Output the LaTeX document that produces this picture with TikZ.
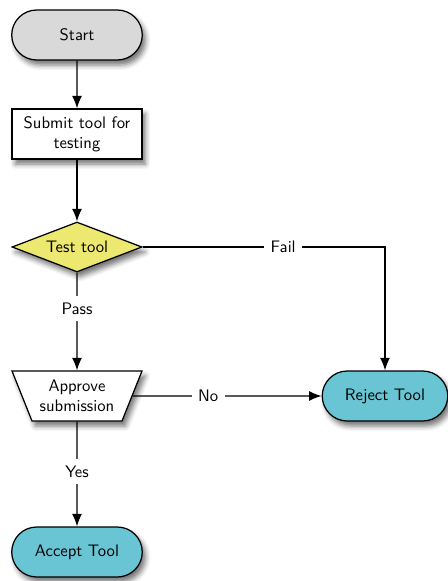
\documentclass[tikz,border=0pt]{standalone}
\usetikzlibrary{shapes.geometric,shapes.misc,shadows.blur,arrows.meta}
\definecolor{startgray}{RGB}{217,217,217}
\definecolor{testyellow}{RGB}{237,232,112}
\definecolor{endteal}{RGB}{105,196,211}
\tikzset{
  boxshadow/.style={blur shadow={shadow xshift=2pt, shadow yshift=-3pt, shadow blur radius=3pt, shadow opacity=55}},
  terminal/.style={rounded rectangle, draw, minimum width=85pt, minimum height=30pt, boxshadow},
  process/.style={rectangle, draw, fill=white, minimum width=78pt, minimum height=30pt, align=center, boxshadow},
  decision/.style={diamond, draw, fill=testyellow, aspect=2.6, inner sep=1pt, minimum width=78pt, minimum height=30pt, boxshadow},
  approval/.style={trapezium, draw, fill=white, trapezium left angle=65, trapezium right angle=65, shape border rotate=180, trapezium stretches body, minimum width=78pt, minimum height=30pt, align=center, boxshadow},
  edgelabel/.style={fill=white, inner sep=4pt}
}
\begin{document}
\begin{tikzpicture}[x=0.6pt, y=-0.6pt, >={Latex[length=7.5pt,width=6pt]}, line width=0.75pt, font=\sffamily]
    \useasboundingbox (0,0) rectangle (447,581);

    \node [terminal, fill=startgray] (start) at (77,35) {Start};
    \node [process] (submit) at (77,134) {Submit tool for\\testing};
    \node [decision] (test) at (77,247) {Test tool};
    \node [approval] (approve) at (77,396) {Approve\\submission};
    \node [terminal, fill=endteal] (accept) at (77,552) {Accept Tool};
    \node [terminal, fill=endteal, minimum width=82pt] (reject) at (385,396) {Reject Tool};

    \draw [->] (start) -- (submit);
    \draw [->] (submit) -- (test);
    \draw [->] (test) -- node [edgelabel, pos=.37]{Pass} (approve);
    \draw [->] (approve) -- node [edgelabel, pos=.48]{Yes} (accept);
    \draw [->] (approve) -- node [edgelabel, pos=.4]{No} (reject);
    \draw [->] (test) -| node [edgelabel, pos=.29]{Fail} (reject);
\end{tikzpicture}
\end{document}
